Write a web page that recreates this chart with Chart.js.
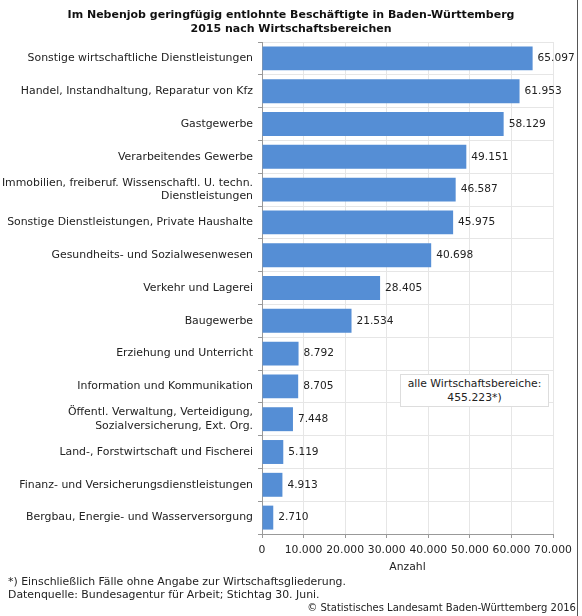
<!DOCTYPE html>
<html>
<head>
<meta charset="utf-8">
<script src="https://cdn.jsdelivr.net/npm/chart.js@4"></script>
<style>
  html, body { margin: 0; padding: 0; background: #fff; }
  #wrap { position: relative; width: 582px; height: 616px; font-family: "DejaVu Sans", Verdana, sans-serif; color: #222; }
  #title { position: absolute; left: 0; top: 8px; width: 582px; text-align: center; font-weight: bold; font-size: 11px; line-height: 14px; color: #111; }
  #note { position: absolute; left: 400px; top: 374px; width: 149px; height: 33px; background: #fff; border: 1px solid #ddd;
          text-align: center; font-size: 10.8px; line-height: 14px; padding-top: 2px; box-sizing: border-box; }
  .foot { position: absolute; font-size: 10.9px; line-height: 13px; color: #222; white-space: nowrap; }
  #rborder { position: absolute; left: 577px; top: 0; width: 1px; height: 616px; background: #555; }
</style>
</head>
<body>
<div id="wrap">
  <canvas id="chart" width="582" height="616"></canvas>
  <div id="title">Im Nebenjob geringfügig entlohnte Beschäftigte in Baden-Württemberg<br>2015 nach Wirtschaftsbereichen</div>
  <div id="note">alle Wirtschaftsbereiche:<br>455.223*)</div>
  <div class="foot" style="left:8px; top:575px;">*) Einschließlich Fälle ohne Angabe zur Wirtschaftsgliederung.</div>
  <div class="foot" style="left:8px; top:588px;">Datenquelle: Bundesagentur für Arbeit; Stichtag 30. Juni.</div>
  <div class="foot" style="right:6px; top:601px; font-size:10px;">© Statistisches Landesamt Baden-Württemberg 2016</div>
  <div id="rborder"></div>
</div>
<script>
// Kategorien (Wirtschaftsbereiche)
const categories = [
    'Sonstige wirtschaftliche Dienstleistungen',
    'Handel, Instandhaltung, Reparatur von Kfz',
    'Gastgewerbe',
    'Verarbeitendes Gewerbe',
    ['Immobilien, freiberuf. Wissenschaftl. U. techn.', 'Dienstleistungen'],
    'Sonstige Dienstleistungen, Private Haushalte',
    'Gesundheits- und Sozialwesenwesen',
    'Verkehr und Lagerei',
    'Baugewerbe',
    'Erziehung und Unterricht',
    'Information und Kommunikation',
    ['Öffentl. Verwaltung, Verteidigung,', 'Sozialversicherung, Ext. Org.'],
    'Land-, Forstwirtschaft und Fischerei',
    'Finanz- und Versicherungsdienstleistungen',
    'Bergbau, Energie- und Wasserversorgung'
];

// Beschäftigte (Anzahl)
const beschaeftigte = [65097, 61953, 58129, 49151, 46587, 45975, 40698, 28405, 21534, 8792, 8705, 7448, 5119, 4913, 2710];

// x-Achse
const xTicks = [0, 10000, 20000, 30000, 40000, 50000, 60000, 70000];

const FONT = '"DejaVu Sans", Verdana, sans-serif';

function fmt(n) {
    return String(n).replace(/\B(?=(\d{3})+(?!\d))/g, '.');
}

// Werte rechts neben den Balken
const valueLabels = {
    id: 'valueLabels',
    afterDatasetsDraw(chart) {
        const ctx = chart.ctx;
        const meta = chart.getDatasetMeta(0);
        ctx.save();
        ctx.font = '10.6px ' + FONT;
        ctx.fillStyle = '#222';
        ctx.textAlign = 'left';
        ctx.textBaseline = 'middle';
        meta.data.forEach((bar, i) => {
            ctx.fillText(fmt(beschaeftigte[i]), bar.x + 5, bar.y);
        });
        ctx.restore();
    }
};

new Chart(document.getElementById('chart').getContext('2d'), {
    type: 'bar',
    data: {
        labels: categories,
        datasets: [{
            data: beschaeftigte,
            backgroundColor: '#558ed5',
            borderWidth: 0,
            barPercentage: 0.73,
            categoryPercentage: 1
        }]
    },
    options: {
        indexAxis: 'y',
        responsive: false,
        animation: false,
        layout: { padding: { top: 42, right: 29, bottom: 42, left: 0 } },
        plugins: {
            legend: { display: false },
            tooltip: { enabled: false }
        },
        scales: {
            x: {
                min: 0,
                max: 70000,
                afterBuildTicks(scale) {
                    scale.ticks = xTicks.map(v => ({ value: v }));
                },
                afterFit(scale) { scale.height = 40; },
                grid: { color: '#e6e6e6', tickColor: '#999', tickLength: 4, drawTicks: true },
                border: { color: '#999' },
                ticks: {
                    font: { family: FONT, size: 10.8 },
                    color: '#222',
                    padding: 6,
                    maxRotation: 0,
                    callback: v => fmt(v)
                },
                title: {
                    display: true,
                    text: 'Anzahl',
                    font: { family: FONT, size: 10.8 },
                    color: '#222',
                    padding: { top: 2, bottom: 0 }
                }
            },
            y: {
                afterFit(scale) { scale.width = 262; },
                grid: { color: '#e6e6e6', tickColor: '#999', tickLength: 4, offset: true },
                border: { color: '#999' },
                ticks: {
                    font: { family: FONT, size: 10.9, lineHeight: 1.25 },
                    color: '#222',
                    padding: 5,
                    autoSkip: false
                }
            }
        }
    },
    plugins: [valueLabels]
});
</script>
</body>
</html>
